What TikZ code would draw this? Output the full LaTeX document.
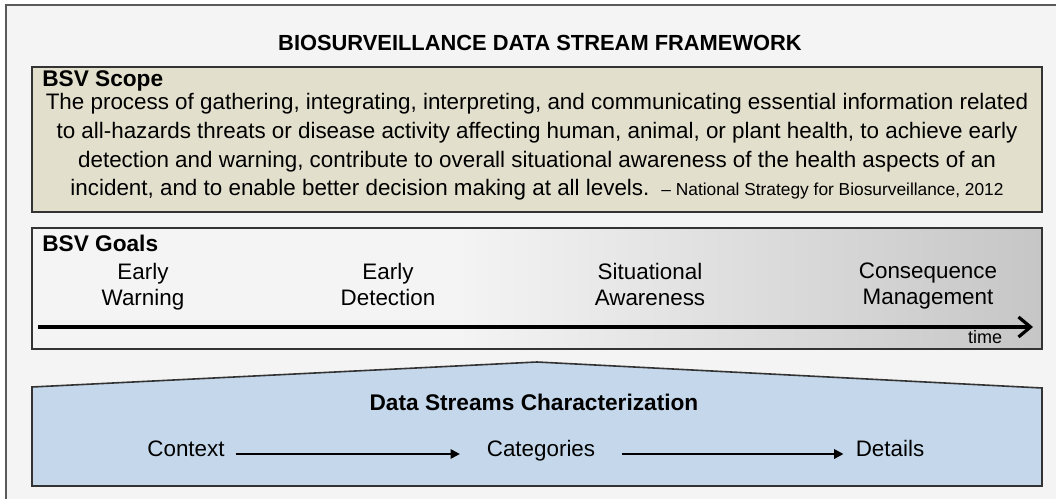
\documentclass[tikz,border=0pt]{standalone}
\usepackage{fontspec}
\setmainfont{Liberation Sans}
\usetikzlibrary{arrows.meta}

\definecolor{bggray}{HTML}{F4F4F4}
\definecolor{framegray}{HTML}{5A5A5A}
\definecolor{boxline}{HTML}{333333}
\definecolor{scopefill}{HTML}{E2DFCD}
\definecolor{goalgray}{HTML}{C6C6C6}
\definecolor{dsblue}{HTML}{C5D8EB}

\pgfdeclarehorizontalshading{goalshade}{100bp}{color(0bp)=(bggray); color(25bp)=(bggray); color(46bp)=(bggray); color(75bp)=(goalgray); color(100bp)=(goalgray)}

\begin{document}
\begin{tikzpicture}[x=0.75pt, y=-0.75pt,
    box/.style={draw=boxline, line width=1.2pt},
    txt/.style={inner sep=0pt, font=\fontsize{16.8}{20}\selectfont},
    head/.style={inner sep=0pt, anchor=west, font=\fontsize{17}{20}\selectfont\bfseries},
    goal/.style={txt, align=center, anchor=north, font=\fontsize{16.8}{19.5}\selectfont},
    stage/.style={txt, text height=0.66em, text depth=0.27em},
    flow/.style={line width=1.5pt, -{Triangle[length=7pt,width=7pt]}}]

    \useasboundingbox (0,0) rectangle (1056,499);

    % outer frame
    \path[draw=framegray, line width=1.5pt, fill=bggray] (6,5) rectangle (1070,512);

    \node[inner sep=0pt, font=\fontsize{16.4}{19}\selectfont\bfseries] (title) at (540,43) {BIOSURVEILLANCE DATA STREAM FRAMEWORK};

    % scope
    \path[box, fill=scopefill] (32,67) rectangle (1042,212);
    \node[head] (scopehead) at (42,81) {BSV Scope};
    \node[txt, align=center, font=\fontsize{16.8}{21.4}\selectfont] (scopetext) at (537,147)
        {The process of gathering, integrating, interpreting, and communicating essential information related\\
         to all-hazards threats or disease activity affecting human, animal, or plant health, to achieve early\\
         detection and warning, contribute to overall situational awareness of the health aspects of an\\
         incident, and to enable better decision making at all levels.\hspace{9pt}{\fontsize{13}{15}\selectfont -- National Strategy for Biosurveillance, 2012}};

    % goals
    \path[box, shading=goalshade] (32,228) rectangle (1042,349);
    \node[head] (goalhead) at (42,243) {BSV Goals};
    \node[goal] (warn) at (143,263) {Early\\Warning};
    \node[goal] (detect) at (388,263) {Early\\Detection};
    \node[goal] (aware) at (650,263) {Situational\\Awareness};
    \node[goal] (manage) at (928,263) {Consequence\\Management};

    \coordinate (t0) at (38,327);
    \coordinate (t1) at (1033,327);
    \path[draw, line width=2.4pt, -{Straight Barb[length=9pt,width=15pt]}] (t0) -- (t1);
    \node[inner sep=0pt, font=\fontsize{13.5}{15}\selectfont] (time) at (985,337) {time};

    % data streams
    \coordinate (p1) at (32,387);
    \coordinate (p2) at (537,362);
    \coordinate (p3) at (1042,388);
    \coordinate (p4) at (1042,486);
    \coordinate (p5) at (32,486);
    \path[box, fill=dsblue] (p1) -- (p2) -- (p3) -- (p4) -- (p5) -- cycle;

    \node[inner sep=0pt, font=\fontsize{17}{20}\selectfont\bfseries] (dshead) at (534,402) {Data Streams Characterization};
    \node[stage] (ctx) at (186,454) {Context};
    \node[stage] (cat) at (541,454) {Categories};
    \node[stage] (det) at (890,454) {Details};

    \path[draw, flow, shorten <=8pt, shorten >=20pt] (ctx) -- (cat);
    \path[draw, flow, shorten <=20pt, shorten >=9pt] (cat) -- (det);

\end{tikzpicture}
\end{document}
